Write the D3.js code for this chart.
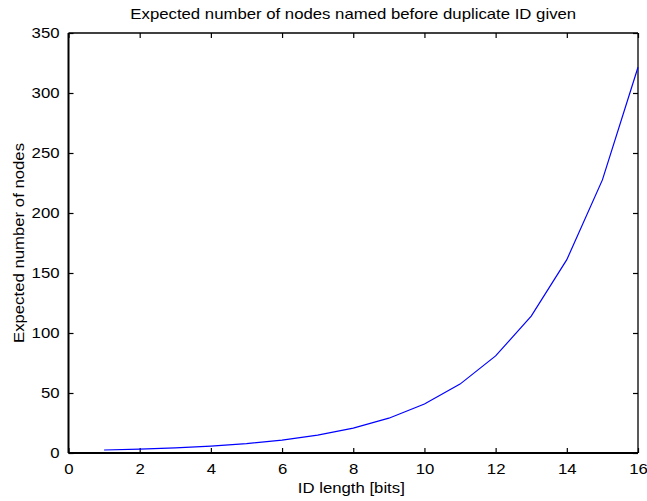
<!DOCTYPE html>
<html>
<head>
<meta charset="utf-8">
<script src="https://cdn.jsdelivr.net/npm/d3@7"></script>
<style>
  html, body { margin: 0; padding: 0; background: #fff; }
  svg { display: block; }
  text { font-family: "Liberation Sans", Arial, Helvetica, sans-serif; fill: #000; }
</style>
</head>
<body>
<svg id="chart" width="647" height="501"></svg>
<script>
// ID length in bits
const idBits = [1, 2, 3, 4, 5, 6, 7, 8, 9, 10, 11, 12, 13, 14, 15, 16];
// Expected number of nodes named before a duplicate ID appears
const expectedNodes = [2.5, 3.2, 4.2, 5.7, 7.8, 10.7, 14.9, 20.7, 29.0, 40.8,
                       57.4, 80.9, 114.1, 161.1, 227.6, 321.5];
const xTicks = [0, 2, 4, 6, 8, 10, 12, 14, 16];
const yTicks = [0, 50, 100, 150, 200, 250, 300, 350];

const titleText = "Expected number of nodes named before duplicate ID given";
const xLabelText = "ID length [bits]";
const yLabelText = "Expected number of nodes";

const W = 647, H = 501;
const plot = { left: 68.5, right: 638, top: 33, bottom: 453 };
const fontSize = 14.2;
const stretch = 1.18; // glyphs are drawn slightly wide

const svg = d3.select("#chart");

const x = d3.scaleLinear().domain([0, 16]).range([plot.left, plot.right]);
const y = d3.scaleLinear().domain([0, 350]).range([plot.bottom, plot.top]);

// Box with inward ticks on all four sides
const tickLen = 5;

const gBottom = svg.append("g")
  .attr("transform", `translate(0,${plot.bottom})`)
  .call(d3.axisBottom(x).tickValues(xTicks).tickSize(-tickLen).tickPadding(11.3)
        .tickFormat(d3.format("d")));
const gLeft = svg.append("g")
  .attr("transform", `translate(${plot.left},0)`)
  .call(d3.axisLeft(y).tickValues(yTicks).tickSize(-tickLen).tickPadding(9)
        .tickFormat(d3.format("d")));
const gTop = svg.append("g")
  .attr("transform", `translate(0,${plot.top})`)
  .call(d3.axisTop(x).tickValues(xTicks).tickSize(-tickLen).tickFormat(""));
const gRight = svg.append("g")
  .attr("transform", `translate(${plot.right},0)`)
  .call(d3.axisRight(y).tickValues(yTicks).tickSize(-tickLen).tickFormat(""));

[gBottom, gLeft, gTop, gRight].forEach(g => {
  g.select(".domain").remove();
  g.selectAll(".tick line").attr("stroke", "#000").attr("stroke-width", 1.2);
  g.selectAll("text")
    .attr("font-family", null)
    .style("font-size", fontSize + "px")
    .attr("fill", "#000");
});
gBottom.selectAll("text").attr("transform", `scale(${stretch},1)`);
gLeft.selectAll("text")
  .attr("x", -9 / stretch)
  .attr("transform", `scale(${stretch},1)`);

// Frame
svg.append("line").attr("x1", plot.left).attr("x2", plot.right)
  .attr("y1", plot.bottom).attr("y2", plot.bottom)
  .attr("stroke", "#000").attr("stroke-width", 2);
svg.append("line").attr("x1", plot.left).attr("x2", plot.left)
  .attr("y1", plot.top).attr("y2", plot.bottom)
  .attr("stroke", "#000").attr("stroke-width", 2);
svg.append("line").attr("x1", plot.left).attr("x2", plot.right)
  .attr("y1", plot.top).attr("y2", plot.top)
  .attr("stroke", "#000").attr("stroke-width", 1.3);
svg.append("line").attr("x1", plot.right).attr("x2", plot.right)
  .attr("y1", plot.top).attr("y2", plot.bottom)
  .attr("stroke", "#000").attr("stroke-width", 1.3);

// Data line
const line = d3.line()
  .x((d, i) => x(idBits[i]))
  .y(d => y(d));
svg.append("path")
  .datum(expectedNodes)
  .attr("d", line)
  .attr("fill", "none")
  .attr("stroke", "#0000ff")
  .attr("stroke-width", 1.2);

// Labels
function stretchedText(tx, ty, rot, str) {
  svg.append("g")
    .attr("transform", `translate(${tx},${ty}) rotate(${rot}) scale(${stretch},1)`)
    .append("text")
    .attr("text-anchor", "middle")
    .style("font-size", fontSize + "px")
    .text(str);
}
stretchedText((plot.left + plot.right) / 2, 19.3, 0, titleText);
stretchedText(351.3, 492.7, 0, xLabelText);
stretchedText(24, (plot.top + plot.bottom) / 2, -90, yLabelText);
</script>
</body>
</html>
